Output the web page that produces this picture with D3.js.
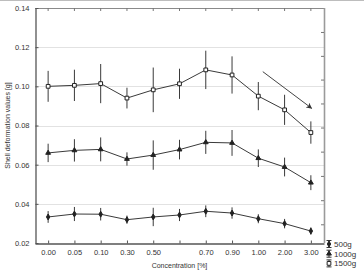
<!DOCTYPE html>
<html><head><meta charset="utf-8">
<script src="https://cdn.jsdelivr.net/npm/d3@7"></script>
<style>html,body{margin:0;padding:0;background:#fff;}svg{display:block;font-family:"Liberation Sans",Arial,sans-serif;}</style>
</head><body>
<svg id="c" width="364" height="270"></svg>
<script>
// ---- data ----
const categories = ["0.00","0.05","0.10","0.30","0.50","0.60","0.70","0.90","1.00","2.00","3.00"];
const tickLabels = ["0.00","0.05","0.10","0.30","0.50","","0.70","0.90","1.00","2.00","3.00"];
const yTicks = [0.02,0.04,0.06,0.08,0.10,0.12,0.14];
const gridValues = [0.04,0.06,0.08,0.10,0.12];
const rightMinorTicks = [0.1275,0.1153,0.1032,0.0910,0.0787,0.0664,0.0540,0.0416,0.0293];
const seriesNames = ["500g","1000g","1500g"];
const mean500  = [0.0333,0.0348,0.0347,0.0319,0.0333,0.0343,0.0362,0.0353,0.0324,0.0299,0.0261];
const err500   = [0.0030,0.0036,0.0032,0.0021,0.0047,0.0031,0.0030,0.0029,0.0023,0.0024,0.0019];
const mean1000 = [0.0660,0.0673,0.0678,0.0629,0.0649,0.0677,0.0714,0.0711,0.0633,0.0588,0.0508];
const err1000  = [0.0047,0.0057,0.0061,0.0034,0.0075,0.0050,0.0059,0.0066,0.0045,0.0048,0.0038];
const mean1500 = [0.1000,0.1005,0.1014,0.0940,0.0982,0.1013,0.1084,0.1058,0.0950,0.0880,0.0764];
const err1500  = [0.0079,0.0080,0.0100,0.0053,0.0114,0.0077,0.0098,0.0095,0.0072,0.0077,0.0057];
// arrow annotation: from (category index, value) to (category index, value)
const arrowFrom = [8.17, 0.1075];
const arrowTo   = [10.03, 0.0888];

// ---- layout ----
const W = 364, H = 270;
const m = {l:35, t:8, r:40, b:27};
const svg = d3.select("#c");
const x = d3.scalePoint().domain(categories).range([m.l, W - m.r]).padding(0.5);
const y = d3.scaleLinear().domain([0.02, 0.14]).range([H - m.b, m.t]);
const xi = d3.scaleLinear().domain([0, categories.length - 1]).range([x(categories[0]), x(categories[categories.length-1])]);

// figure frame top line
svg.append("line").attr("x1",0).attr("x2",W).attr("y1",0.5).attr("y2",0.5).attr("stroke","#bdbdbd");

// gridlines
svg.append("g").selectAll("line").data(gridValues).join("line")
  .attr("x1", m.l).attr("x2", W - m.r)
  .attr("y1", d => Math.round(y(d)) + 0.5).attr("y2", d => Math.round(y(d)) + 0.5)
  .attr("stroke", "#e2e2e2").attr("stroke-width", 1);

// frame: top & right lighter
svg.append("line").attr("x1", m.l).attr("x2", W - m.r).attr("y1", m.t + 0.5).attr("y2", m.t + 0.5).attr("stroke", "#8a8a8a");
svg.append("line").attr("x1", W - m.r + 0.5).attr("x2", W - m.r + 0.5).attr("y1", m.t).attr("y2", H - m.b).attr("stroke", "#9a9a9a").attr("stroke-width", 1.6);

// top ticks
svg.append("g").selectAll("line").data(categories).join("line")
  .attr("x1", d => x(d)).attr("x2", d => x(d)).attr("y1", m.t).attr("y2", m.t + 3)
  .attr("stroke", "#777");
// right minor ticks
svg.append("g").selectAll("line").data(rightMinorTicks).join("line")
  .attr("x1", W - m.r - 3).attr("x2", W - m.r).attr("y1", d => y(d)).attr("y2", d => y(d))
  .attr("stroke", "#777");

// left axis
const yAxis = d3.axisLeft(y).tickValues(yTicks).tickFormat(d3.format(".2f")).tickSizeInner(-3).tickSizeOuter(0).tickPadding(6);
const gy = svg.append("g").attr("transform", `translate(${m.l + 0.5},0)`).call(yAxis);
gy.select(".domain").attr("stroke", "#555").attr("stroke-width", 1.3);
gy.selectAll(".tick line").attr("stroke", "#555");
gy.selectAll("text").attr("font-size", 7.5).attr("fill", "#333");

// bottom axis
const xAxis = d3.axisBottom(x).tickFormat((d, i) => tickLabels[i]).tickSizeInner(-3).tickSizeOuter(0).tickPadding(6);
const gx = svg.append("g").attr("transform", `translate(0,${H - m.b + 0.5})`).call(xAxis);
gx.select(".domain").attr("stroke", "#555").attr("stroke-width", 1.3);
gx.selectAll(".tick line").attr("stroke", "#555");
gx.selectAll("text").attr("font-size", 7.5).attr("fill", "#333");

// axis titles
svg.append("text").attr("x", (m.l + W - m.r) / 2).attr("y", 268).attr("text-anchor", "middle")
  .attr("font-size", 7).attr("fill", "#333").text("Concentration [%]");
svg.append("text").attr("transform", `translate(9.5,${(m.t + H - m.b) / 2}) rotate(-90)`).attr("text-anchor", "middle")
  .attr("font-size", 7).attr("fill", "#333").text("Shell deformation values [g]");

// series
const series = [
  {name: seriesNames[0], mean: mean500, err: err500, sym: d3.symbolDiamond, size: 10, fill: "#222"},
  {name: seriesNames[1], mean: mean1000, err: err1000, sym: d3.symbolTriangle, size: 10, fill: "#222"},
  {name: seriesNames[2], mean: mean1500, err: err1500, sym: d3.symbolSquare, size: 14, fill: "#fff"}
];
const line = d3.line().x((d, i) => x(categories[i])).y(d => y(d));
series.forEach(s => {
  const g = svg.append("g");
  g.selectAll("line.eb").data(s.mean).join("line").attr("class","eb")
    .attr("x1", (d, i) => x(categories[i])).attr("x2", (d, i) => x(categories[i]))
    .attr("y1", (d, i) => y(d + s.err[i])).attr("y2", (d, i) => y(d - s.err[i]))
    .attr("stroke", "#3a3a3a").attr("stroke-width", 1);
  g.append("path").datum(s.mean).attr("d", line).attr("fill", "none").attr("stroke", "#3a3a3a").attr("stroke-width", 1);
  g.selectAll("path.mk").data(s.mean).join("path").attr("class","mk")
    .attr("transform", (d, i) => `translate(${x(categories[i])},${y(d)})`)
    .attr("d", d3.symbol().type(s.sym).size(s.size))
    .attr("fill", s.fill).attr("stroke", "#222").attr("stroke-width", 1);
});

// arrow
svg.append("defs").append("marker").attr("id", "ah").attr("viewBox", "0 0 10 10").attr("refX", 9).attr("refY", 5)
  .attr("markerWidth", 7).attr("markerHeight", 6).attr("orient", "auto-start-reverse").attr("markerUnits","userSpaceOnUse")
  .append("path").attr("d", "M0,0 L10,5 L0,10 L3,5 Z").attr("fill", "#333");
svg.append("line").attr("x1", xi(arrowFrom[0])).attr("y1", y(arrowFrom[1]))
  .attr("x2", xi(arrowTo[0])).attr("y2", y(arrowTo[1]))
  .attr("stroke", "#444").attr("stroke-width", 1).attr("marker-end", "url(#ah)");

// legend
const lg = svg.append("g").attr("transform", "translate(329,244)");
series.forEach((s, i) => {
  const g = lg.append("g").attr("transform", `translate(0,${i * 9.7})`);
  g.append("line").attr("x1", 0).attr("x2", 0).attr("y1", -3.5).attr("y2", 3.5).attr("stroke", "#333");
  g.append("line").attr("x1", -2.5).attr("x2", 2.5).attr("y1", -3.5).attr("y2", -3.5).attr("stroke", "#333");
  g.append("line").attr("x1", -2.5).attr("x2", 2.5).attr("y1", 3.5).attr("y2", 3.5).attr("stroke", "#333");
  g.append("path").attr("d", d3.symbol().type(s.sym).size(s.size)).attr("fill", s.fill).attr("stroke", "#222");
  g.append("text").attr("x", 5).attr("y", 3).attr("font-size", 8).attr("fill", "#333").text(s.name);
});
</script>
</body></html>
